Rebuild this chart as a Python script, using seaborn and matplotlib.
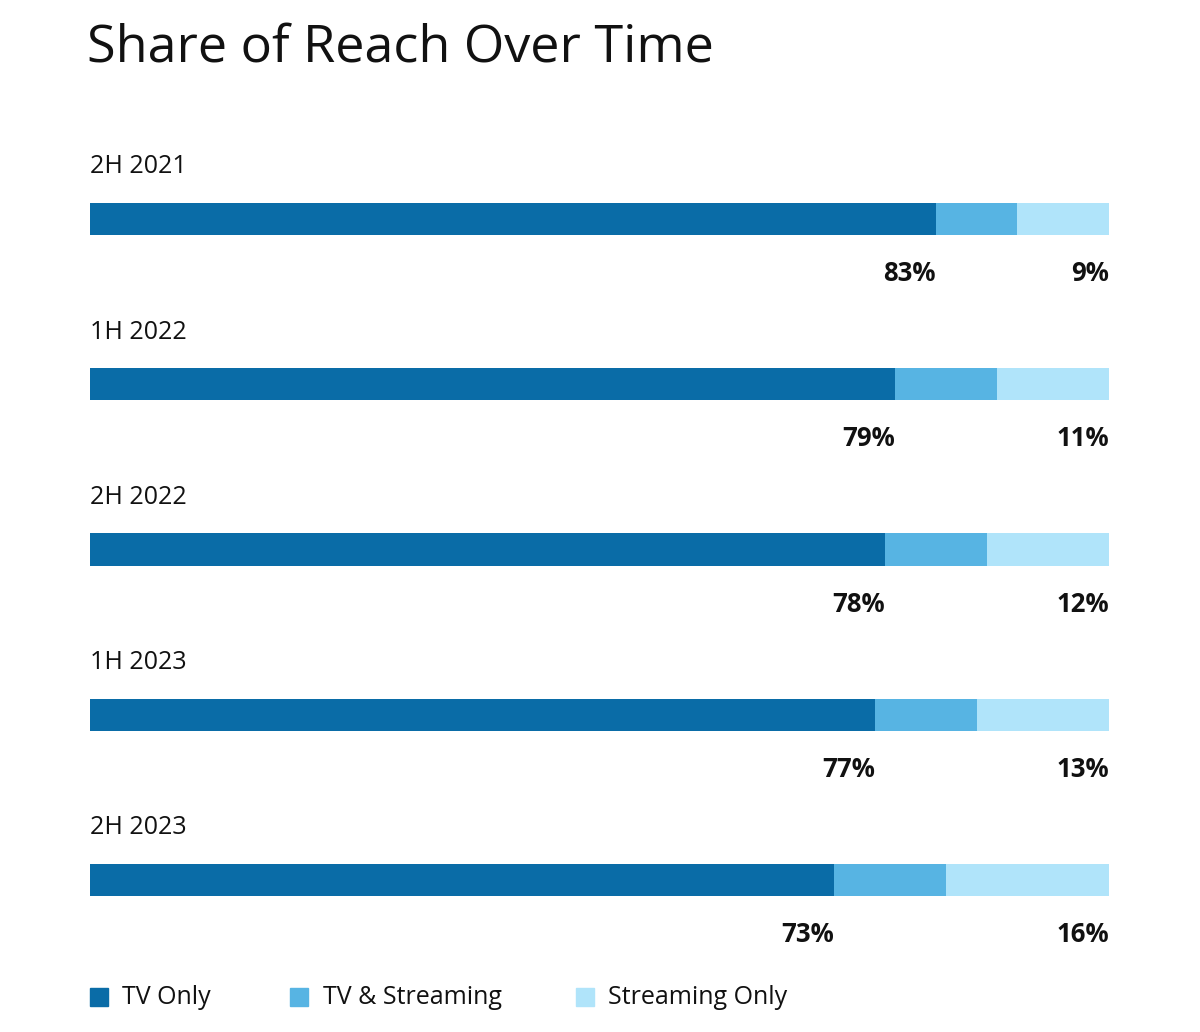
import pandas as pd
import seaborn as sns
import matplotlib.pyplot as plt
from matplotlib.patches import Rectangle

# data
periods = ['2H 2021', '1H 2022', '2H 2022', '1H 2023', '2H 2023']
tv_only = [83, 79, 78, 77, 73]
tv_and_streaming = [8, 10, 10, 10, 11]
streaming_only = [9, 11, 12, 13, 16]
series_names = ['TV Only', 'TV & Streaming', 'Streaming Only']
colors = ['#0a6ca7', '#57b4e3', '#b0e4fa']

df = pd.DataFrame({
    'Period': periods,
    'TV Only': tv_only,
    'TV & Streaming': tv_and_streaming,
    'Streaming Only': streaming_only,
})
# cumulative ends so each stacked layer can be drawn on top of the previous one
df['end_tv'] = df['TV Only']
df['end_both'] = df['end_tv'] + df['TV & Streaming']
df['end_all'] = df['end_both'] + df['Streaming Only']

sns.set_style('white')
plt.rcParams['font.family'] = ['Open Sans', 'DejaVu Sans']

fig = plt.figure(figsize=(12, 10.32), dpi=100)
ax = fig.add_axes([0.075, 0.0672, 0.84917, 0.8327])

bar_h = 0.194
# draw the longest first, shorter ones on top
for col, c in zip(['end_all', 'end_both', 'end_tv'], colors[::-1]):
    sns.barplot(data=df, x=col, y='Period', orient='h', color=c,
                width=bar_h, saturation=1, linewidth=0, ax=ax)

ax.set_xlim(0, 100)
ax.set_ylim(4.5, -0.7)
ax.set_xlabel('')
ax.set_ylabel('')
ax.set_xticks([])
ax.set_yticks([])
sns.despine(ax=ax, left=True, bottom=True)

for i, row in df.iterrows():
    ax.text(0, i - 0.315, row['Period'], ha='left', va='center',
            fontsize=18, color='#111111')
    ax.text(row['end_tv'], i + 0.33, f"{row['TV Only']}%", ha='right',
            va='center', fontsize=18.5, fontweight='bold', color='#111111')
    ax.text(row['end_all'], i + 0.33, f"{row['Streaming Only']}%", ha='right',
            va='center', fontsize=18.5, fontweight='bold', color='#111111')

fig.text(87 / 1200, 1 - 48 / 1032, 'Share of Reach Over Time', ha='left',
         va='center', fontsize=37.5, color='#111111')

# legend drawn by hand to match the spacing of the original
leg_y = 1 - 997 / 1032
sq_x = [90, 290, 576]
txt_x = [122, 323, 608]
for sx, tx, name, c in zip(sq_x, txt_x, series_names, colors):
    fig.patches.append(Rectangle((sx / 1200, leg_y - 9 / 1032), 18 / 1200, 18 / 1032,
                                 transform=fig.transFigure, color=c))
    fig.text(tx / 1200, leg_y, name, ha='left', va='center', fontsize=18,
             color='#111111')

fig.savefig('out.png', dpi=100)
